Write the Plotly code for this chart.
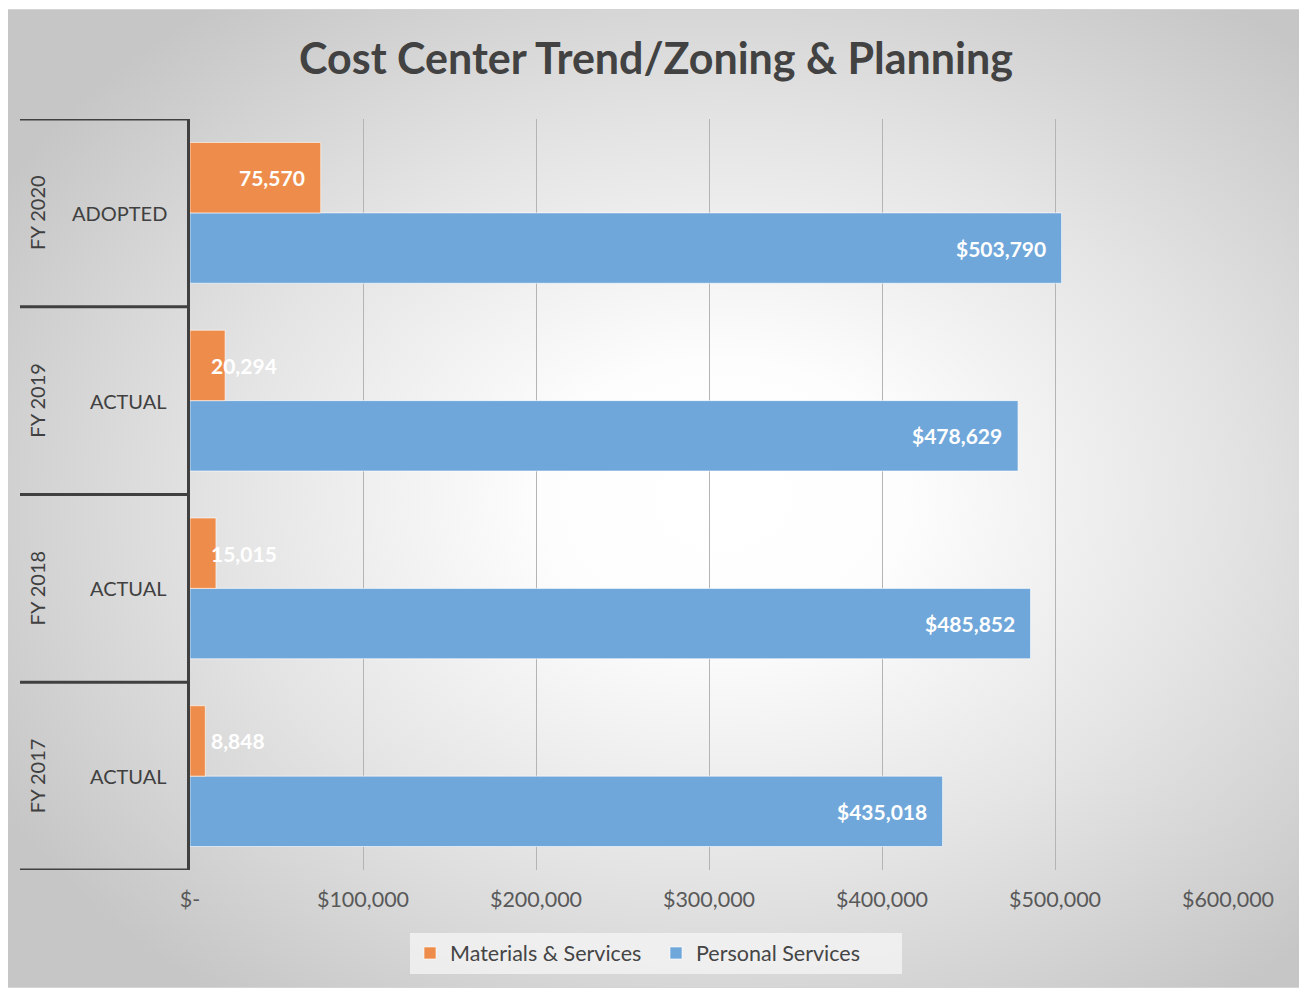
import base64
import plotly.graph_objects as go

# ---- data ----
categories = ["FY 2017", "FY 2018", "FY 2019", "FY 2020"]
stages = ["ACTUAL", "ACTUAL", "ACTUAL", "ADOPTED"]
materials = [8848, 15015, 20294, 75570]
personal = [435018, 485852, 478629, 503790]
tick_vals = [0, 100000, 200000, 300000, 400000, 500000, 600000]
tick_text = ["$-", "$100,000", "$200,000", "$300,000", "$400,000", "$500,000", "$600,000"]

ORANGE = "#EE8D4B"
BLUE = "#70A7DA"
DARK = "#404040"
FONT = "Lato"

# the page body adds an 8px margin; figure coords = page coords - 8
OFF = 8
W, H = 1307 - OFF, 988 - OFF
L, T = 190 - OFF, 119 - OFF
R, B = W - (1228 - OFF), H - (870 - OFF)
pw, ph = W - L - R, H - T - B

fig = go.Figure()
fig.add_trace(go.Bar(
    name="Personal Services", y=categories, x=personal, orientation="h",
    marker=dict(color=BLUE, line=dict(color="rgba(255,255,255,0.6)", width=1)),
    legendrank=2, hoverinfo="x",
))
fig.add_trace(go.Bar(
    name="Materials & Services", y=categories, x=materials, orientation="h",
    marker=dict(color=ORANGE, line=dict(color="rgba(255,255,255,0.6)", width=1)),
    legendrank=1, hoverinfo="x",
))

bargap = 0.25
half = (1 - bargap) / 4  # center offset of each bar within group

label_font = dict(family=FONT, size=21, color="white", weight="bold")
annotations = []
for i, (m, p) in enumerate(zip(materials, personal)):
    annotations.append(dict(
        x=p, y=i - half, xref="x", yref="y", text="$" + f"{p:,}",
        showarrow=False, xanchor="right", xshift=-14, font=label_font,
    ))
    if m > 50000:
        annotations.append(dict(
            x=m, y=i + half, xref="x", yref="y", text=f"{m:,}",
            showarrow=False, xanchor="right", xshift=-14, font=label_font,
        ))
    else:
        annotations.append(dict(
            x=0, y=i + half, xref="x", yref="y", text=f"{m:,}",
            showarrow=False, xanchor="left", xshift=19, font=label_font,
        ))
    # category labels
    annotations.append(dict(
        x=0, y=i, xref="paper", yref="y", text=stages[i], showarrow=False,
        xanchor="right", xshift=-21, font=dict(family=FONT, size=20, color=DARK),
    ))
    annotations.append(dict(
        x=(37 - OFF - L) / pw, y=i, xref="paper", yref="y", text=categories[i], showarrow=False,
        xanchor="center", yanchor="middle", textangle=-90,
        font=dict(family=FONT, size=20, color=DARK),
    ))

shapes = []
for k in range(len(categories) + 1):
    shapes.append(dict(
        type="line", xref="paper", yref="y", x0=(20 - OFF - L) / pw, x1=0,
        y0=k - 0.5, y1=k - 0.5, line=dict(color=DARK, width=3), layer="above",
    ))

# radial gradient background
svg = (
    '<svg xmlns="http://www.w3.org/2000/svg" width="1298" height="979" viewBox="0 0 1298 979" preserveAspectRatio="none">'
    '<defs><radialGradient id="g" cx="0.55" cy="0.5" r="0.64">'
    '<stop offset="0" stop-color="#ffffff"/>'
    '<stop offset="0.22" stop-color="#fdfdfd"/>'
    '<stop offset="0.6" stop-color="#e4e4e4"/>'
    '<stop offset="1" stop-color="#c6c6c6"/>'
    '</radialGradient></defs>'
    '<rect x="0.5" y="0.5" width="1297" height="978" fill="url(#g)" stroke="#d4d4d4" stroke-width="1"/>'
    '</svg>'
)
src = "data:image/svg+xml;base64," + base64.b64encode(svg.encode()).decode()
bx0, by0 = 7 - OFF, 9 - OFF
fig.add_layout_image(dict(
    source=src, xref="paper", yref="paper",
    x=(bx0 - L) / pw, y=(H - B - by0) / ph,
    sizex=(W - bx0) / pw, sizey=(H - by0) / ph,
    xanchor="left", yanchor="top", sizing="stretch", layer="below",
))

fig.update_layout(
    width=W, height=H,
    margin=dict(l=L, r=R, t=T, b=B, autoexpand=False),
    paper_bgcolor="white", plot_bgcolor="rgba(0,0,0,0)",
    barmode="group", bargap=bargap, bargroupgap=0,
    title=dict(text="Cost Center Trend/Zoning & Planning", x=(656 - OFF) / W, xanchor="center",
               y=1 - (59 - OFF) / H, yanchor="middle",
               font=dict(family=FONT, size=43, color="#424242", weight="bold")),
    font=dict(family=FONT, color="#595959"),
    xaxis=dict(range=[0, 600000], tickvals=tick_vals, ticktext=tick_text,
               showgrid=True, gridcolor="#b4b4b4", gridwidth=1, zeroline=False,
               showline=False, ticks="", ticklabelstandoff=14,
               tickfont=dict(family=FONT, size=21.5, color="#595959")),
    yaxis=dict(range=[-0.5, len(categories) - 0.5], showticklabels=False, showgrid=False,
               zeroline=False, showline=True, linecolor=DARK, linewidth=3, ticks=""),
    legend=dict(orientation="h", xref="container", yref="container",
                x=(656 - OFF) / W, y=1 - (953 - OFF) / H,
                xanchor="center", yanchor="middle", bgcolor="rgba(246,246,246,0.75)",
                font=dict(family=FONT, size=21.5, color="#454545"),
                itemwidth=30, tracegroupgap=0, entrywidth=201, entrywidthmode="pixels"),
    annotations=annotations, shapes=shapes,
)

fig.write_html("out.html")
